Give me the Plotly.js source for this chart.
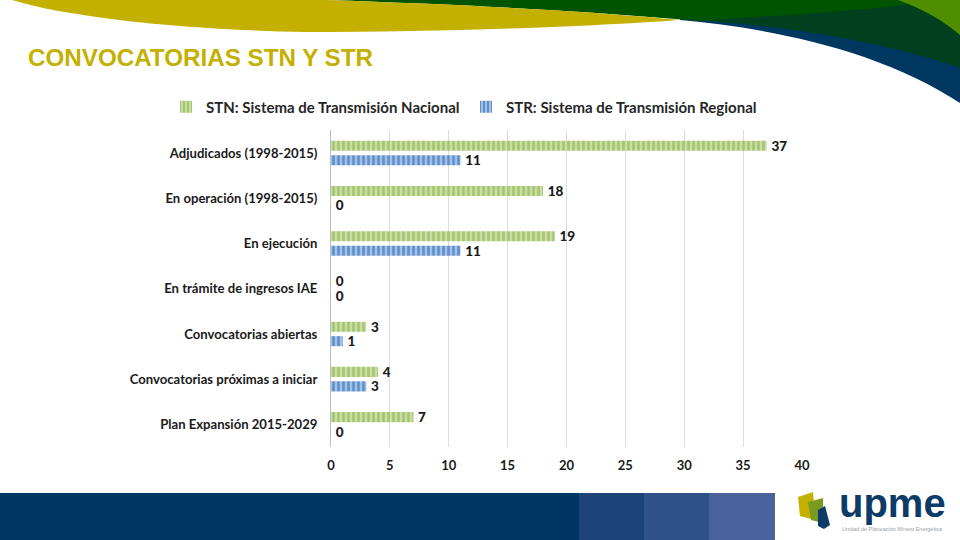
<!DOCTYPE html>
<html><head><meta charset="utf-8">
<script src="https://cdn.plot.ly/plotly-3.0.1.min.js"></script>
<style>html,body{margin:0;padding:0;background:#fff}#c{width:960px;height:540px}</style>
</head><body><div id="c"></div>
<script>
const categories=["Adjudicados (1998-2015)","En operación (1998-2015)","En ejecución","En trámite de ingresos IAE","Convocatorias abiertas","Convocatorias próximas a iniciar","Plan Expansión 2015-2029"];
const stn=[37,18,19,0,3,4,7];
const str=[11,0,11,0,1,3,0];
const stnName="STN: Sistema de Transmisión Nacional";
const strName="STR: Sistema de Transmisión Regional";
const W=960,H=540;
const px=x=>(x/W).toFixed(4), py=y=>(1-y/H).toFixed(4);
function path(cmds){ // decoration outline, in page pixels
  return cmds.map(c=>{
    const [k,...v]=c; let s=k;
    for(let i=0;i<v.length;i+=2){s+=(i?' ':'')+px(v[i])+','+py(v[i+1]);}
    return s;}).join(' ')+' Z';
}
const deco=(d,color)=>({type:'path',xref:'paper',yref:'paper',path:path(d),fillcolor:color,line:{width:0},layer:'below'});
const rect=(x0,y0,x1,y1,c)=>({type:'rect',xref:'paper',yref:'paper',x0:x0/W,x1:x1/W,y0:1-y1/H,y1:1-y0/H,fillcolor:c,line:{width:0},layer:'below'});
const shapes=[
  deco([['M',680,20],['C',770,28,880,50,960,103],['L',960,0],['L',680,0]],'#003862'),
  deco([['M',700,21],['C',770,24,880,40,960,68],['L',960,0],['L',700,0]],'#00401F'),
  deco([['M',325,0],['C',480,5,600,12,700,21],['L',750,17],['C',800,15,860,10,903,5],['L',960,0]],'#005400'),
  deco([['M',898,0],['C',925,10,945,22,960,35],['L',960,0]],'#4F8E00'),
  deco([['M',12,0],['L',325,0],['C',480,5,600,12,680,20],['C',600,26,450,32,306,32],['C',190,30,70,18,12,0]],'#C4B000'),
  rect(0,493,579,540,'#003662'),
  rect(579,493,644,540,'#1C4478'),
  rect(644,493,709,540,'#30528A'),
  rect(709,493,775,540,'#4A639C'),
  deco([['M',798,497],['L',813,492],['L',815,520],['L',800,516]],'#C4B000'),
  deco([['M',808,502],['L',823,498],['L',823,523],['L',811,520]],'#7A9A22'),
  deco([['M',818,510],['L',825,506],['L',830,525],['L',824,529],['L',818,526]],'#0C3B68')
];
const common={type:'bar',orientation:'h',y:categories,textposition:'outside',cliponaxis:false,constraintext:'none',
  textfont:{family:'Lato, sans-serif',size:13.5,color:'#1a1a1a',weight:900},hoverinfo:'x+y'};
const label=v=>'\u2009'+v;
const traces=[
 Object.assign({},common,{name:stnName,x:stn,text:stn.map(label),
   marker:{color:'#AECB7C',pattern:{shape:'|',size:5,solidity:0.5,fgcolor:'#A5C46E',bgcolor:'#CBDDA6'},line:{width:0}}}),
 Object.assign({},common,{name:strName,x:str,text:str.map(label),
   marker:{color:'#6E9BD2',pattern:{shape:'|',size:5,solidity:0.5,fgcolor:'#5F8FCB',bgcolor:'#A3C1E6'},line:{width:0}}})
];
const layout={
  width:W,height:H,margin:{l:0,r:0,t:0,b:0},paper_bgcolor:'#fff',plot_bgcolor:'rgba(0,0,0,0)',
  barmode:'group',bargap:0.36,bargroupgap:0.3,showlegend:true,
  title:{text:'CONVOCATORIAS STN Y STR',x:28/W,xanchor:'left',y:1-58/H,yanchor:'middle',
    font:{family:'Liberation Sans, Arial, sans-serif',size:24.2,color:'#C4B000',weight:700}},
  legend:{orientation:'h',x:166/W,xanchor:'left',y:1-107/H,yanchor:'middle',
    font:{family:'Lato, sans-serif',size:15,color:'#262626',weight:700},itemwidth:30,entrywidthmode:'pixels',entrywidth:255},
  xaxis:{domain:[331/W,802/W],range:[0,40],tickvals:[0,5,10,15,20,25,30,35,40],
    showgrid:true,gridcolor:'#DDDDDD',gridwidth:1,zeroline:false,showline:false,ticks:'',ticklabelstandoff:9,
    tickfont:{family:'Lato, sans-serif',size:13,color:'#1a1a1a',weight:700}},
  yaxis:{domain:[1-447/H,1-130.4/H],autorange:'reversed',type:'category',showgrid:false,zeroline:false,
    showline:true,linecolor:'#BBBBBB',linewidth:1,ticks:'',ticklabelstandoff:10,
    tickfont:{family:'Lato, sans-serif',size:13.1,color:'#1a1a1a',weight:700}},
  shapes:shapes,
  annotations:[
    {xref:'paper',yref:'paper',x:892/W,y:1-503/H,xanchor:'center',yanchor:'middle',showarrow:false,text:'<b>upme</b>',
      font:{family:'Liberation Sans, sans-serif',size:40,color:'#0C3B68'}},
    {xref:'paper',yref:'paper',x:892/W,y:1-529/H,xanchor:'center',yanchor:'middle',showarrow:false,
      text:'Unidad de Planeación Minero Energética',font:{family:'Liberation Sans, sans-serif',size:5.5,color:'#9aa0a6'}}
  ]
};
Plotly.newPlot('c',traces,layout,{displayModeBar:false,responsive:false});
</script></body></html>
